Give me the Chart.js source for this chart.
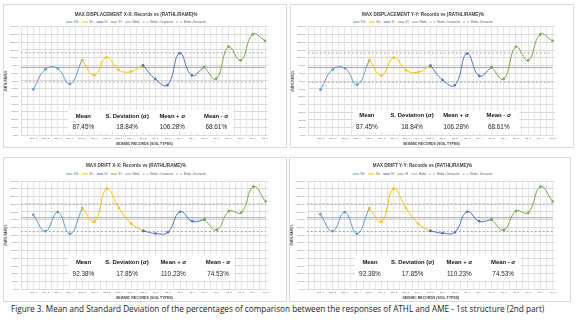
<!DOCTYPE html>
<html><head><meta charset="utf-8">
<script src="https://cdn.jsdelivr.net/npm/chart.js@4.4.1/dist/chart.umd.min.js"></script>
<style>
html,body{margin:0;padding:0;background:#fff;}
body{width:576px;height:329px;position:relative;overflow:hidden;}
.card{position:absolute;box-sizing:border-box;border:1px solid #d9d9d9;background:#fff;}
.card canvas{position:absolute;left:0;top:0;}
#caption{position:absolute;left:11px;top:303px;font-family:"Open Sans",sans-serif;font-size:8.2px;line-height:12px;color:#1a1a1a;white-space:nowrap;}
</style></head><body>
<div class="card" id="card1"><canvas id="ch1"></canvas></div>
<div class="card" id="card2"><canvas id="ch2"></canvas></div>
<div class="card" id="card3"><canvas id="ch3"></canvas></div>
<div class="card" id="card4"><canvas id="ch4"></canvas></div>
<div id="caption">Figure 3. Mean and Standard Deviation of the percentages of comparison between the responses of ATHL and AME - 1st structure (2nd part)</div>
<script>
// ---------- DATA ----------
const categories = ['S1h_1','S1h_2','S1h_3','S1h_4','S1h_5','S1s_1','S1s_2','S1s_3','S1s_4','S1s_5',
                    'S2_1','S2_2','S2_3','S2_4','S2_5','S3_1','S3_2','S3_3','S3_4','S3_5'];
const seriesNames = ['S1h','S1s','S2','S3'];
const seriesStart = [0, 4, 9, 14];
const seriesEnd   = [4, 9, 14, 19];
const lineNames = ['Media','Media + Desviación','Media - Desviación'];

const dispXX  = [59.0, 85.0, 86.0, 65.9, 96.9, 77.1, 100.4, 84.0, 81.9, 90.0, 72.4, 64.6, 105.6, 77.1, 87.9, 72.8, 114.2, 96.5, 130.1, 121.9];
const dispYY  = [59.0, 85.0, 86.5, 65.5, 96.9, 77.1, 100.4, 84.0, 81.5, 90.0, 71.5, 64.6, 105.6, 76.7, 87.9, 72.8, 114.2, 96.5, 130.1, 121.9];
const driftXX = [96.3, 74.9, 99.7, 71.5, 104.9, 87.3, 130.1, 104.9, 84.8, 75.3, 71.9, 73.6, 100.2, 87.8, 89.9, 76.6, 101.0, 98.9, 132.7, 113.4];
const driftYY = [97.0, 74.9, 99.7, 71.5, 104.9, 87.3, 130.1, 104.9, 84.8, 75.3, 72.4, 73.6, 100.2, 87.8, 89.9, 76.6, 101.0, 98.9, 132.7, 113.4];

const statHeaders = ['Mean', 'S. Deviation (\u03C3)', 'Mean + \u03C3', 'Mean - \u03C3'];
const dispStats  = [87.45, 18.84, 106.28, 68.61];  // mean, sd, mean+sd, mean-sd
const driftStats = [92.38, 17.85, 110.23, 74.53];

const yMin = 0, yMax = 140, yStep = 10;

const titles = ['MAX DISPLACEMENT X-X: Records vs (RATHL/RAME)%',
                'MAX DISPLACEMENT Y-Y: Records vs (RATHL/RAME)%',
                'MAX DRIFT X-X: Records vs (RATHL/RAME)%',
                'MAX DRIFT Y-Y: Records vs (RATHL/RAME)%'];
const xTitle = 'SEISMIC RECORDS (SOIL TYPES)';
const yTitle = '(RATHL/RAME)%';

// ---------- STYLE / LAYOUT ----------
const FONT = '"Liberation Sans", Arial, sans-serif';
const seriesColors = ['#5B9BD5', '#FFC000', '#4472C4', '#70AD47'];
const refColor = '#A5A5A5';

// geometry in page pixels
const layouts = [
  {card:[3,4,284,144],   titleY:15,  legendY:22,  top:26.7, bottom:135,   tickY:138,   axisTitleY:144, left:20.7,  right:268, p0:33.3,  pN:265,
   stats:{cols:[4.1,7.7,11.4,15.0], headY:24.5, valY:10.3, box:[2.84,16.4,4,32]}},
  {card:[290,4,284,144], titleY:15,  legendY:22,  top:26.7, bottom:135.5, tickY:138.5, axisTitleY:144, left:307.7, right:555, p0:320.5, pN:552.5,
   stats:{cols:[3.8,7.5,11.1,14.6], headY:26, valY:10.6, box:[2.65,16.3,4,32]}},
  {card:[3,157,284,145], titleY:166, legendY:174, top:181,  bottom:289,   tickY:292.3, axisTitleY:297.6, left:20.7,  right:268, p0:33.3,  pN:265.7,
   stats:{cols:[4.1,7.66,11.45,15.1], headY:35, valY:19, box:[2.84,16.4,11,43]}},
  {card:[289,157,282,145], titleY:166, legendY:174, top:181, bottom:289,  tickY:292.3, axisTitleY:297.6, left:306.7, right:555, p0:320.3, pN:552.7,
   stats:{cols:[4.06,7.55,11.37,14.95], headY:35, valY:19, box:[2.84,16.4,11,43]}}
];

const statsPlugin = {
  id: 'statsBox',
  beforeDatasetsDraw(chart, args, o) {
    if (!o || !o.values) return;
    const ctx = chart.ctx, xs = chart.scales.x, ys = chart.scales.y;
    const l = xs.getPixelForValue(o.box[0]), r = xs.getPixelForValue(o.box[1]);
    const b = ys.getPixelForValue(o.box[2]), t = ys.getPixelForValue(o.box[3]);
    ctx.save();
    ctx.fillStyle = '#ffffff';
    ctx.fillRect(l, t, r - l, b - t);
    ctx.textAlign = 'center';
    ctx.textBaseline = 'middle';
    o.headers.forEach((h, i) => {
      const x = xs.getPixelForValue(o.cols[i]);
      ctx.fillStyle = '#111111';
      ctx.font = 'bold 5.9px ' + FONT;
      ctx.fillText(h, x, ys.getPixelForValue(o.headY));
      ctx.fillStyle = '#262626';
      ctx.font = '6.4px ' + FONT;
      ctx.fillText(o.values[i].toFixed(2) + '%', x, ys.getPixelForValue(o.valY));
    });
    ctx.restore();
  }
};

function buildChart(idx, values, stats) {
  const g = layouts[idx];
  const card = document.getElementById('card' + (idx + 1));
  card.style.left = g.card[0] + 'px'; card.style.top = g.card[1] + 'px';
  card.style.width = g.card[2] + 'px'; card.style.height = g.card[3] + 'px';
  const cx = g.card[0] + 1, cy = g.card[1] + 1;
  const cw = g.card[2] - 2, chh = g.card[3] - 2;
  const canvas = document.getElementById('ch' + (idx + 1));
  canvas.width = cw; canvas.height = chh;
  canvas.style.width = cw + 'px'; canvas.style.height = chh + 'px';

  const titleSize = 4.6, titleLH = titleSize * 1.2;
  const legSize = 2.6, legPad = 3;
  const tPadTop = (g.titleY - cy) - titleLH / 2;
  const legendTopWanted = (g.legendY - cy) - legPad - legSize / 2;
  const tPadBottom = Math.max(0, legendTopWanted - (tPadTop + titleLH));
  const legendTop = tPadTop + titleLH + tPadBottom;
  const areaTop = g.top - cy, areaBottom = g.bottom - cy;
  const legendH = areaTop - legendTop;
  const xH = chh - areaBottom;
  const tickSize = 2.5, tickLH = tickSize * 1.2;
  const xTickPad = (g.tickY - cy) - areaBottom - tickLH / 2;
  const xtSize = 3.5, xtLH = xtSize * 1.2;
  const xTitlePadB = chh - (g.axisTitleY - cy) - xtLH / 2;
  const yW = g.left - cx;
  const padRight = cw - (g.right - cx);
  const n = categories.length - 1;
  const unit = (g.pN - g.p0) / n;
  const xMin = -(g.p0 - g.left) / unit;
  const xMax = n + (g.right - g.pN) / unit;

  const datasets = [];
  seriesNames.forEach((name, s) => {
    const pts = [];
    for (let i = seriesStart[s]; i <= seriesEnd[s]; i++) pts.push({x: i, y: values[i]});
    datasets.push({
      label: name, data: pts,
      borderColor: seriesColors[s], backgroundColor: seriesColors[s],
      pointBackgroundColor: seriesColors[s], pointBorderWidth: 0, pointRadius: 1.3,
      borderWidth: 1, tension: 0.45, order: 10 - s
    });
  });
  const refVals = [stats[0], stats[2], stats[3]];
  lineNames.forEach((name, k) => {
    datasets.push({
      label: name,
      data: [{x: xMin, y: refVals[k]}, {x: n, y: refVals[k]}],
      borderColor: refColor, backgroundColor: refColor,
      borderWidth: 1, borderDash: k === 0 ? [] : [2, 2],
      pointRadius: 0, tension: 0, order: 20 + k
    });
  });

  return new Chart(canvas, {
    type: 'line',
    data: { datasets },
    options: {
      responsive: false, animation: false, devicePixelRatio: 1,
      layout: { padding: { left: 0, right: padRight, top: 0, bottom: 0 } },
      events: [],
      plugins: {
        title: { display: true, text: titles[idx], color: '#404040',
                 font: { family: FONT, size: titleSize, weight: 'bold', lineHeight: 1.2 },
                 padding: { top: tPadTop, bottom: tPadBottom } },
        legend: { display: true, maxHeight: legendH,
                  labels: { font: { family: FONT, size: legSize }, color: '#595959',
                            usePointStyle: true, pointStyle: 'line', pointStyleWidth: 6.5,
                            boxHeight: legSize, padding: legPad,
                            generateLabels: (chart) => chart.data.datasets.map((ds, i) => ({
                              text: ds.label, fillStyle: ds.borderColor, strokeStyle: ds.borderColor,
                              lineWidth: ds.borderWidth, lineDash: ds.borderDash || [],
                              pointStyle: 'line', hidden: false, datasetIndex: i, fontColor: '#595959'
                            })) } },
        tooltip: { enabled: false },
        statsBox: { headers: statHeaders, values: stats, cols: g.stats.cols,
                    headY: g.stats.headY, valY: g.stats.valY, box: g.stats.box }
      },
      scales: {
        x: {
          type: 'linear', min: xMin, max: xMax,
          afterFit: (s) => { s.height = xH; },
          ticks: { stepSize: 0.5, includeBounds: false, autoSkip: false, maxRotation: 0, minRotation: 0,
                   padding: xTickPad, color: '#595959', font: { family: FONT, size: tickSize },
                   callback: (v) => {
                     const r = Math.round(v);
                     return (Math.abs(v - r) < 1e-6 && r >= 0 && r < categories.length) ? categories[r] : '';
                   } },
          grid: { color: '#e6e6e6', drawTicks: false, lineWidth: 1 },
          border: { display: false },
          title: { display: true, text: xTitle, color: '#404040',
                   font: { family: FONT, size: xtSize, weight: 'bold' },
                   padding: { top: 0, bottom: xTitlePadB } }
        },
        y: {
          min: yMin, max: yMax,
          afterFit: (s) => { s.width = yW; },
          ticks: { stepSize: yStep, padding: 2, color: '#595959', font: { family: FONT, size: tickSize },
                   callback: (v) => v.toFixed(1) + '%' },
          grid: { color: '#d9d9d9', drawTicks: false },
          border: { display: false },
          title: { display: true, text: yTitle, color: '#404040',
                   font: { family: FONT, size: 2.6, weight: 'bold' },
                   padding: { top: 1.1, bottom: 0 } }
        }
      }
    },
    plugins: [statsPlugin]
  });
}

buildChart(0, dispXX, dispStats);
buildChart(1, dispYY, dispStats);
buildChart(2, driftXX, driftStats);
buildChart(3, driftYY, driftStats);
</script>
</body></html>
